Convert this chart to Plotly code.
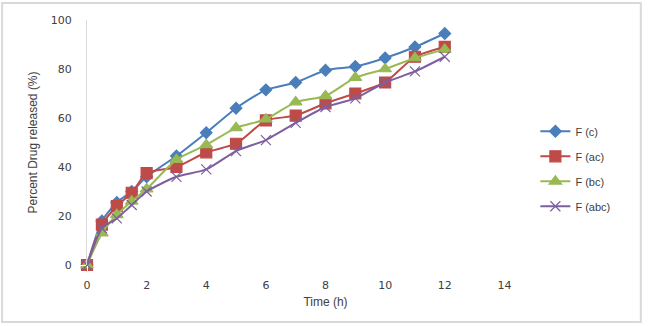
import plotly.graph_objects as go

time_h = [0, 0.5, 1, 1.5, 2, 3, 4, 5, 6, 7, 8, 9, 10, 11, 12]
f_c = [0, 18, 25.5, 30, 36, 44.5, 54, 64, 71.5, 74.5, 79.5, 81, 84.5, 89, 94.5]
f_ac = [0, 16.5, 24, 29.5, 37.5, 40, 46, 49.5, 59, 61, 66, 70, 74.5, 85, 89]
f_bc = [0, 13, 20.5, 26, 31, 43, 49, 56, 59.5, 66.5, 69, 76.5, 80, 84.5, 88]
f_abc = [0, 15, 19, 24.5, 30, 36, 39, 46.5, 51, 58, 64.5, 68, 74.5, 79, 85]

series = [
    ("F (c)", f_c, "#4A7EBB", "diamond", 9),
    ("F (ac)", f_ac, "#BE4B48", "square", 11),
    ("F (bc)", f_bc, "#98B954", "triangle-up", 11),
    ("F (abc)", f_abc, "#7D5FA0", "x-thin-open", 10),
]

fig = go.Figure()
for i, (name, vals, col, sym, sz) in enumerate(series):
    fig.add_trace(go.Scatter(
        x=time_h, y=vals, name=name, mode="lines+markers", legendgroup=f"g{i}",
        cliponaxis=False,
        line=dict(color=col, width=2, shape="spline", smoothing=0.6),
        marker=dict(symbol=sym, size=sz, color=col, line=dict(color=col, width=1.2)),
    ))

fig.update_layout(
    width=653, height=326,
    margin=dict(l=87, r=89, t=20, b=61, autoexpand=False),
    paper_bgcolor="white", plot_bgcolor="white",
    font=dict(family="Liberation Sans, Arial", size=11, color="#404040"),
    showlegend=True,
    legend=dict(x=0.94, y=0.605, xanchor="left", yanchor="top",
                bgcolor="rgba(0,0,0,0)", font=dict(size=11, color="#404040"),
                tracegroupgap=6, itemwidth=30),
    xaxis=dict(range=[0, 16], tickvals=[0, 2, 4, 6, 8, 10, 12, 14],
               showgrid=False, zeroline=False, showline=False,
               ticks="outside", ticklen=10, tickcolor="white",
               tickfont=dict(size=11, color="#404040", family="DejaVu Sans"),
               title=dict(text="Time (h)", font=dict(size=12, color="#404040"), standoff=6)),
    yaxis=dict(range=[0, 100], tickvals=[0, 20, 40, 60, 80, 100],
               showgrid=False, zeroline=False, showline=True, linecolor="#D9D9D9", linewidth=1,
               ticks="outside", ticklen=12, tickcolor="white",
               tickfont=dict(size=11, color="#404040", family="DejaVu Sans"),
               title=dict(text="Percent Drug released (%)", font=dict(size=12, color="#404040"), standoff=10)),
    shapes=[dict(type="rect", xref="paper", yref="paper",
                 x0=-0.178, x1=1.161, y0=-0.233, y1=1.069,
                 line=dict(color="#D9D9D9", width=2), fillcolor="rgba(0,0,0,0)", layer="below")],
)

fig.write_html("out.html")
